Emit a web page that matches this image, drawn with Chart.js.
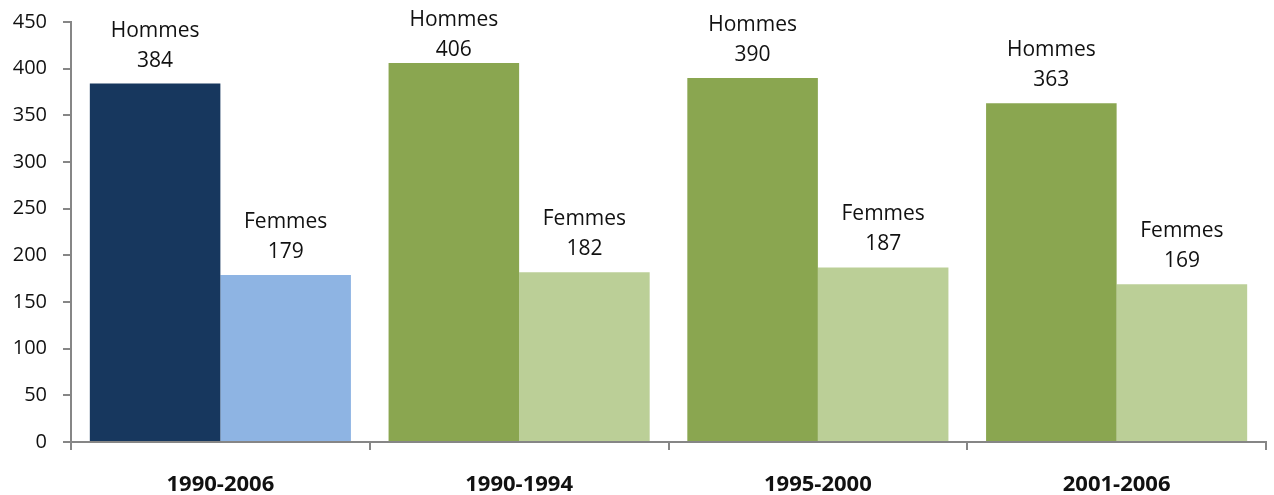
<!DOCTYPE html>
<html>
<head>
<meta charset="utf-8">
<script src="https://cdn.jsdelivr.net/npm/chart.js@4"></script>
<style>
  html, body { margin: 0; padding: 0; background: #fff; }
  #wrap { width: 1274px; height: 495px; }
</style>
</head>
<body>
<div id="wrap"><canvas id="barChart" width="1274" height="495"></canvas></div>
<script>
    // data
    var periods = ["1990-2006", "1990-1994", "1995-2000", "2001-2006"];
    var hommes = [384, 406, 390, 363];
    var femmes = [179, 182, 187, 169];
    var hommesColors = ["#17375e", "#8aa650", "#8aa650", "#8aa650"];
    var femmesColors = ["#8eb4e3", "#bbcf97", "#bbcf97", "#bbcf97"];
    var seriesNames = ["Hommes", "Femmes"];
    var yTicks = [0, 50, 100, 150, 200, 250, 300, 350, 400, 450];

    var fontFamily = "'Open Sans', 'Noto Sans', sans-serif";
    var axisColor = "#868686";

    // labels above each bar: name on top, value below
    var barLabels = {
        id: 'barLabels',
        afterDatasetsDraw: function (chart) {
            var ctx = chart.ctx;
            ctx.save();
            ctx.fillStyle = "#111";
            ctx.font = "21px " + fontFamily;
            ctx.textAlign = "center";
            ctx.textBaseline = "middle";
            chart.data.datasets.forEach(function (ds, i) {
                var meta = chart.getDatasetMeta(i);
                meta.data.forEach(function (bar, j) {
                    var y = Math.max(bar.y - 23, chart.chartArea.top + 28);
                    ctx.fillText(String(ds.data[j]), bar.x, y);
                    ctx.fillText(ds.label, bar.x, y - 30);
                });
            });
            ctx.restore();
        }
    };

    var ctxB = document.getElementById("barChart").getContext('2d');
    var myBarChart = new Chart(ctxB, {
        type: 'bar',
        data: {
            labels: periods,
            datasets: [{
                label: seriesNames[0],
                data: hommes,
                backgroundColor: hommesColors,
                borderWidth: 0
            }, {
                label: seriesNames[1],
                data: femmes,
                backgroundColor: femmesColors,
                borderWidth: 0
            }]
        },
        options: {
            responsive: false,
            animation: false,
            devicePixelRatio: 1,
            categoryPercentage: 0.874,
            barPercentage: 1.0,
            layout: { padding: { top: 22, right: 8, bottom: 0, left: 0 } },
            plugins: {
                legend: { display: false },
                tooltip: { enabled: false }
            },
            scales: {
                x: {
                    grid: {
                        offset: true,
                        drawOnChartArea: false,
                        drawTicks: true,
                        tickLength: 8,
                        color: axisColor,
                        lineWidth: 2
                    },
                    border: { display: true, color: axisColor, width: 2 },
                    ticks: {
                        padding: 22,
                        color: "#111",
                        font: { family: fontFamily, size: 22, weight: 'bold' }
                    },
                    afterFit: function (scale) { scale.height = 53; }
                },
                y: {
                    min: 0,
                    max: 450,
                    afterBuildTicks: function (scale) {
                        scale.ticks = yTicks.map(function (v) { return { value: v }; });
                    },
                    grid: {
                        drawOnChartArea: false,
                        drawTicks: true,
                        tickLength: 8,
                        color: axisColor,
                        lineWidth: 2
                    },
                    border: { display: true, color: axisColor, width: 2 },
                    ticks: {
                        padding: 16,
                        color: "#111",
                        font: { family: fontFamily, size: 20 }
                    },
                    afterFit: function (scale) {
                        scale.width = 71;
                        scale.paddingTop = 0;
                        scale.paddingBottom = 0;
                    }
                }
            }
        },
        plugins: [barLabels]
    });
</script>
</body>
</html>
